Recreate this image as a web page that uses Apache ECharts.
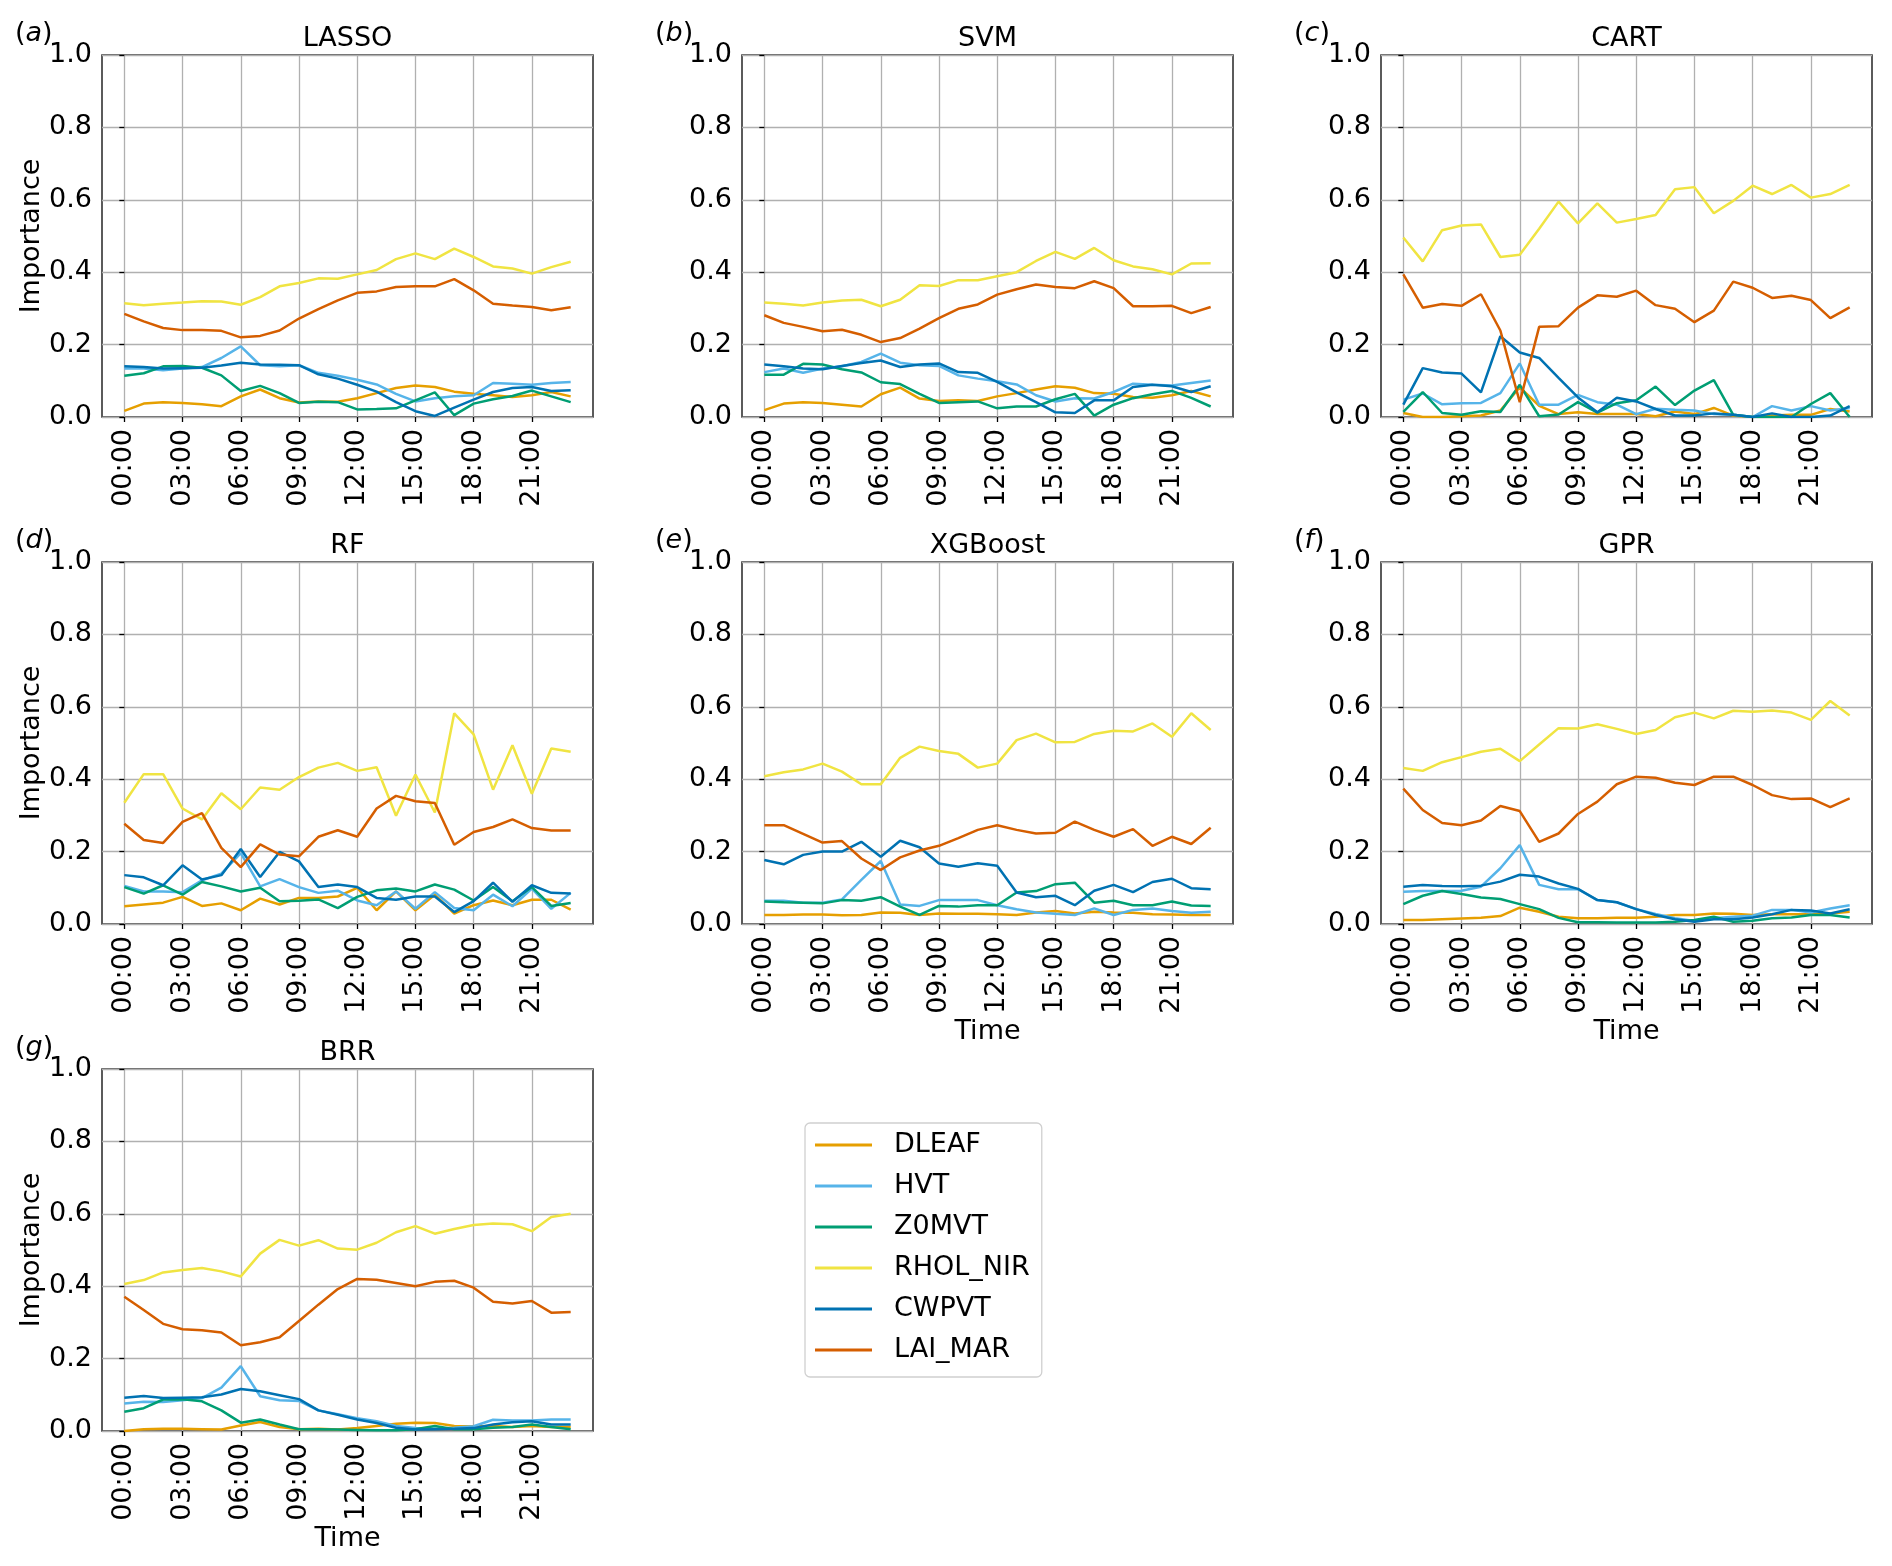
<!DOCTYPE html>
<html><head><meta charset="utf-8">
<script src="https://cdn.jsdelivr.net/npm/echarts@6/dist/echarts.min.js"></script>
<style>html,body{margin:0;padding:0;background:#fff}#chart{width:1892px;height:1566px}</style>
</head><body><div id="chart"></div>
<script>
const hours = [0,1,2,3,4,5,6,7,8,9,10,11,12,13,14,15,16,17,18,19,20,21,22,23];
const tickHours = [0,3,6,9,12,15,18,21];
const tickLabels = ['00:00','03:00','06:00','09:00','12:00','15:00','18:00','21:00'];
const yTicks = [0,0.2,0.4,0.6,0.8,1.0];
const features = ['DLEAF','HVT','Z0MVT','RHOL_NIR','CWPVT','LAI_MAR'];
const featureColors = ['#E69F00','#56B4E9','#009E73','#F0E442','#0072B2','#D55E00'];
const models = ['LASSO','SVM','CART','RF','XGBoost','GPR','BRR'];
const panelTags = ['a','b','c','d','e','f','g'];

// LASSO
const LASSO_DLEAF = [0.017,0.037,0.041,0.039,0.035,0.030,0.057,0.076,0.052,0.040,0.043,0.042,0.052,0.066,0.080,0.087,0.083,0.070,0.064,0.060,0.055,0.060,0.069,0.057];
const LASSO_HVT = [0.134,0.134,0.129,0.134,0.138,0.163,0.195,0.143,0.140,0.143,0.122,0.114,0.103,0.090,0.064,0.043,0.052,0.057,0.060,0.094,0.092,0.089,0.094,0.097];
const LASSO_Z0MVT = [0.114,0.121,0.140,0.141,0.136,0.115,0.072,0.086,0.066,0.039,0.042,0.041,0.021,0.022,0.024,0.046,0.068,0.005,0.037,0.049,0.058,0.073,0.057,0.041];
const LASSO_RHOL_NIR = [0.314,0.309,0.313,0.316,0.320,0.319,0.310,0.331,0.361,0.370,0.383,0.382,0.394,0.406,0.436,0.452,0.436,0.465,0.442,0.416,0.410,0.396,0.414,0.429];
const LASSO_CWPVT = [0.140,0.138,0.134,0.135,0.136,0.142,0.150,0.145,0.144,0.143,0.118,0.106,0.089,0.070,0.041,0.016,0.003,0.026,0.048,0.069,0.080,0.083,0.072,0.074];
const LASSO_LAI_MAR = [0.285,0.264,0.246,0.240,0.240,0.238,0.220,0.224,0.239,0.272,0.298,0.322,0.343,0.347,0.359,0.361,0.361,0.381,0.350,0.313,0.308,0.304,0.295,0.303];
// SVM
const SVM_DLEAF = [0.019,0.037,0.041,0.039,0.034,0.029,0.063,0.081,0.051,0.044,0.046,0.044,0.057,0.066,0.076,0.085,0.081,0.066,0.064,0.055,0.053,0.060,0.072,0.057];
const SVM_HVT = [0.124,0.134,0.122,0.134,0.140,0.152,0.175,0.150,0.143,0.141,0.115,0.106,0.099,0.090,0.060,0.043,0.052,0.051,0.069,0.092,0.089,0.087,0.094,0.101];
const SVM_Z0MVT = [0.117,0.117,0.147,0.145,0.132,0.123,0.096,0.091,0.064,0.039,0.041,0.043,0.024,0.029,0.029,0.049,0.064,0.004,0.034,0.052,0.063,0.072,0.053,0.029];
const SVM_RHOL_NIR = [0.316,0.313,0.308,0.316,0.322,0.324,0.306,0.324,0.364,0.362,0.378,0.378,0.389,0.400,0.431,0.456,0.437,0.467,0.433,0.416,0.408,0.394,0.424,0.425];
const SVM_CWPVT = [0.145,0.140,0.134,0.132,0.141,0.149,0.156,0.138,0.145,0.148,0.124,0.122,0.097,0.068,0.041,0.013,0.011,0.046,0.046,0.083,0.089,0.085,0.069,0.085];
const SVM_LAI_MAR = [0.281,0.260,0.249,0.237,0.241,0.227,0.207,0.218,0.244,0.273,0.299,0.311,0.338,0.353,0.366,0.359,0.356,0.375,0.356,0.306,0.306,0.307,0.287,0.304];
// CART
const CART_DLEAF = [0.011,0,0,0.002,0.004,0.018,0.082,0.031,0.008,0.013,0.008,0.008,0.008,0.002,0.015,0.008,0.025,0.004,0,0.004,0.006,0.006,0.022,0.015];
const CART_HVT = [0.048,0.065,0.035,0.038,0.039,0.066,0.148,0.034,0.034,0.061,0.041,0.034,0.008,0.023,0.020,0.018,0.008,0.006,0,0.030,0.018,0.030,0.018,0.025];
const CART_Z0MVT = [0.014,0.069,0.011,0.006,0.016,0.014,0.089,0.002,0.007,0.041,0.012,0.038,0.046,0.084,0.033,0.073,0.102,0.006,0,0,0,0.036,0.066,0];
const CART_RHOL_NIR = [0.496,0.430,0.516,0.529,0.532,0.442,0.448,0.520,0.595,0.535,0.590,0.537,0.547,0.558,0.629,0.635,0.563,0.597,0.639,0.616,0.641,0.606,0.616,0.641];
const CART_CWPVT = [0.034,0.135,0.123,0.120,0.068,0.223,0.178,0.163,0.108,0.054,0.013,0.053,0.043,0.022,0.004,0.004,0.010,0.006,0,0.010,0,0,0.004,0.030];
const CART_LAI_MAR = [0.394,0.302,0.312,0.307,0.339,0.239,0.041,0.249,0.251,0.302,0.336,0.332,0.349,0.309,0.299,0.262,0.294,0.374,0.357,0.329,0.335,0.323,0.273,0.303];
// RF
const RF_DLEAF = [0.049,0.054,0.059,0.075,0.050,0.057,0.038,0.070,0.054,0.072,0.072,0.076,0.100,0.038,0.090,0.038,0.081,0.029,0.052,0.065,0.052,0.067,0.067,0.040];
const RF_HVT = [0.105,0.090,0.090,0.088,0.121,0.139,0.196,0.104,0.124,0.102,0.086,0.092,0.065,0.052,0.090,0.042,0.088,0.044,0.038,0.081,0.049,0.098,0.042,0.086];
const RF_Z0MVT = [0.102,0.084,0.107,0.081,0.116,0.104,0.090,0.100,0.063,0.064,0.068,0.044,0.075,0.093,0.098,0.090,0.109,0.095,0.065,0.102,0.063,0.102,0.050,0.058];
const RF_RHOL_NIR = [0.335,0.414,0.414,0.319,0.289,0.361,0.317,0.377,0.371,0.406,0.432,0.445,0.423,0.433,0.299,0.413,0.308,0.582,0.524,0.371,0.494,0.360,0.485,0.476];
const RF_CWPVT = [0.135,0.129,0.107,0.162,0.123,0.135,0.207,0.130,0.199,0.173,0.102,0.109,0.102,0.072,0.067,0.076,0.076,0.033,0.063,0.114,0.061,0.107,0.086,0.084];
const RF_LAI_MAR = [0.277,0.232,0.224,0.282,0.306,0.210,0.157,0.220,0.192,0.187,0.241,0.259,0.241,0.319,0.354,0.339,0.334,0.219,0.254,0.268,0.289,0.265,0.258,0.258];
// XGBoost
const XGB_DLEAF = [0.025,0.025,0.026,0.026,0.024,0.025,0.032,0.031,0.025,0.029,0.028,0.028,0.027,0.025,0.032,0.036,0.029,0.034,0.032,0.031,0.027,0.026,0.025,0.025];
const XGB_HVT = [0.064,0.064,0.059,0.059,0.068,0.122,0.174,0.054,0.050,0.066,0.066,0.066,0.052,0.041,0.032,0.028,0.025,0.043,0.025,0.039,0.043,0.036,0.031,0.034];
const XGB_Z0MVT = [0.062,0.060,0.059,0.057,0.066,0.064,0.074,0.048,0.025,0.050,0.048,0.052,0.052,0.087,0.091,0.110,0.114,0.059,0.064,0.052,0.052,0.062,0.051,0.050];
const XGB_RHOL_NIR = [0.408,0.419,0.427,0.443,0.421,0.386,0.386,0.459,0.490,0.478,0.470,0.432,0.443,0.508,0.526,0.502,0.503,0.525,0.534,0.532,0.554,0.517,0.582,0.536];
const XGB_CWPVT = [0.177,0.165,0.191,0.200,0.200,0.227,0.186,0.230,0.212,0.167,0.158,0.168,0.161,0.087,0.074,0.078,0.052,0.092,0.108,0.088,0.116,0.125,0.099,0.096];
const XGB_LAI_MAR = [0.273,0.273,0.249,0.225,0.229,0.181,0.149,0.184,0.203,0.216,0.237,0.260,0.273,0.260,0.250,0.252,0.283,0.260,0.241,0.262,0.216,0.241,0.221,0.266];
// GPR
const GPR_DLEAF = [0.011,0.011,0.013,0.015,0.017,0.022,0.045,0.034,0.020,0.016,0.016,0.017,0.017,0.020,0.025,0.025,0.029,0.028,0.025,0.027,0.027,0.027,0.029,0.034];
const GPR_HVT = [0.089,0.091,0.091,0.092,0.103,0.154,0.218,0.108,0.096,0.096,0.066,0.060,0.041,0.028,0.016,0.008,0.016,0.020,0.023,0.039,0.039,0.032,0.043,0.052];
const GPR_Z0MVT = [0.055,0.078,0.091,0.083,0.073,0.069,0.055,0.041,0.017,0.005,0.005,0.004,0.004,0.004,0.006,0.011,0.020,0.006,0.009,0.016,0.018,0.025,0.025,0.018];
const GPR_RHOL_NIR = [0.431,0.423,0.447,0.461,0.476,0.484,0.450,0.496,0.541,0.540,0.552,0.539,0.525,0.536,0.571,0.584,0.568,0.589,0.586,0.590,0.584,0.564,0.616,0.576];
const GPR_CWPVT = [0.103,0.108,0.105,0.104,0.106,0.117,0.136,0.131,0.112,0.097,0.066,0.060,0.041,0.025,0.013,0.006,0.013,0.013,0.018,0.027,0.039,0.037,0.029,0.041];
const GPR_LAI_MAR = [0.374,0.315,0.279,0.273,0.286,0.326,0.312,0.227,0.250,0.304,0.338,0.386,0.407,0.404,0.390,0.384,0.407,0.407,0.384,0.356,0.345,0.347,0.323,0.347];
// BRR
const BRR_DLEAF = [0,0.005,0.006,0.006,0.005,0.004,0.015,0.025,0.011,0.005,0.006,0.004,0.008,0.014,0.020,0.023,0.022,0.014,0.013,0.014,0.011,0.014,0.011,0.011];
const BRR_HVT = [0.076,0.081,0.080,0.085,0.091,0.120,0.179,0.096,0.085,0.083,0.057,0.046,0.035,0.027,0.014,0.008,0.006,0.009,0.013,0.031,0.029,0.029,0.032,0.032];
const BRR_Z0MVT = [0.053,0.063,0.087,0.088,0.082,0.057,0.023,0.032,0.018,0.005,0.005,0.004,0.003,0.002,0.002,0.005,0.014,0.005,0.005,0.009,0.011,0.018,0.011,0.005];
const BRR_RHOL_NIR = [0.406,0.417,0.438,0.445,0.450,0.441,0.427,0.490,0.528,0.512,0.527,0.504,0.501,0.520,0.549,0.566,0.545,0.558,0.569,0.573,0.571,0.552,0.591,0.600];
const BRR_CWPVT = [0.092,0.097,0.091,0.092,0.093,0.101,0.116,0.110,0.099,0.088,0.057,0.045,0.032,0.022,0.009,0.004,0.005,0.006,0.008,0.018,0.024,0.027,0.018,0.018];
const BRR_LAI_MAR = [0.371,0.334,0.296,0.281,0.278,0.272,0.237,0.245,0.259,0.304,0.349,0.392,0.420,0.418,0.409,0.400,0.412,0.415,0.396,0.357,0.352,0.359,0.327,0.329];

const modelData = [
  [LASSO_DLEAF, LASSO_HVT, LASSO_Z0MVT, LASSO_RHOL_NIR, LASSO_CWPVT, LASSO_LAI_MAR],
  [SVM_DLEAF, SVM_HVT, SVM_Z0MVT, SVM_RHOL_NIR, SVM_CWPVT, SVM_LAI_MAR],
  [CART_DLEAF, CART_HVT, CART_Z0MVT, CART_RHOL_NIR, CART_CWPVT, CART_LAI_MAR],
  [RF_DLEAF, RF_HVT, RF_Z0MVT, RF_RHOL_NIR, RF_CWPVT, RF_LAI_MAR],
  [XGB_DLEAF, XGB_HVT, XGB_Z0MVT, XGB_RHOL_NIR, XGB_CWPVT, XGB_LAI_MAR],
  [GPR_DLEAF, GPR_HVT, GPR_Z0MVT, GPR_RHOL_NIR, GPR_CWPVT, GPR_LAI_MAR],
  [BRR_DLEAF, BRR_HVT, BRR_Z0MVT, BRR_RHOL_NIR, BRR_CWPVT, BRR_LAI_MAR]
];

const FONT = '"DejaVu Sans", sans-serif';
const FS = 27;
const colLeft = [102, 742, 1381];
const rowTop = [55, 562, 1069];
const plotW = 491, plotH = 362;

const grids = [], xAxes = [], yAxes = [], series = [], graphics = [];
models.forEach((m, i) => {
  const r = Math.floor(i / 3), c = i % 3;
  const left = colLeft[c], top = rowTop[r];
  grids.push({left: left, top: top, width: plotW, height: plotH, show: true,
    borderColor: '#333', borderWidth: 1.6, backgroundColor: 'transparent', containLabel: false});
  xAxes.push({
    type: 'value', gridIndex: i, min: -1.15, max: 24.15,
    name: (i >= 4) ? 'Time' : '', nameLocation: 'middle', nameGap: 94,
    nameTextStyle: {fontFamily: FONT, fontSize: FS, color: '#000'},
    axisLine: {show: false},
    axisTick: {show: true, length: 5, lineStyle: {color: '#000', width: 1.3}, customValues: tickHours},
    axisLabel: {rotate: 90, margin: 12, fontFamily: FONT, fontSize: FS, color: '#000', customValues: tickHours,
      formatter: v => tickLabels[tickHours.indexOf(Math.round(v))] || ''},
    splitLine: {show: true, lineStyle: {color: '#b0b0b0', width: 1.3}}
  });
  yAxes.push({
    type: 'value', gridIndex: i, min: 0, max: 1, interval: 0.2,
    name: (c === 0) ? 'Importance' : '', nameLocation: 'middle', nameGap: 56,
    nameTextStyle: {fontFamily: FONT, fontSize: FS, color: '#000'},
    axisLine: {show: false},
    axisTick: {show: true, length: 5, lineStyle: {color: '#000', width: 1.3}},
    axisLabel: {margin: 10, fontFamily: FONT, fontSize: FS, color: '#000', formatter: v => v.toFixed(1)},
    splitLine: {show: true, lineStyle: {color: '#b0b0b0', width: 1.3}}
  });
  features.forEach((f, k) => {
    series.push({
      type: 'line', name: f, xAxisIndex: i, yAxisIndex: i,
      data: hours.map((h, j) => [h, modelData[i][k][j]]),
      symbol: 'none', showSymbol: false,
      lineStyle: {color: featureColors[k], width: 2.5},
      itemStyle: {color: featureColors[k]},
      animation: false, silent: true
    });
  });
  graphics.push({
    type: 'text', x: left + plotW / 2, y: top - 16.5,
    style: {text: m, font: FS + 'px ' + FONT, fill: '#000', align: 'center', verticalAlign: 'middle',
      textAlign: 'center', textVerticalAlign: 'middle'}
  });
  graphics.push({
    type: 'text', x: left - 87, y: top - 21,
    style: {text: '{n|(}{i|' + panelTags[i] + '}{n|)}', fill: '#000', align: 'left', verticalAlign: 'middle',
      textAlign: 'left', textVerticalAlign: 'middle',
      rich: {n: {font: FS + 'px ' + FONT, fill: '#000'}, i: {font: 'italic ' + FS + 'px ' + FONT, fill: '#000'}}}
  });
});

const chart = echarts.init(document.getElementById('chart'), null, {renderer: 'canvas'});
chart.setOption({
  animation: false,
  backgroundColor: '#fff',
  grid: grids, xAxis: xAxes, yAxis: yAxes, series: series,
  graphic: {elements: graphics},
  legend: {
    data: features, orient: 'vertical', left: 805, top: 1123,
    padding: [7, 12, 12, 10], itemWidth: 57, itemHeight: 3, itemGap: 11, icon: 'rect',
    borderColor: '#d0d0d0', borderWidth: 1.3, borderRadius: 5, backgroundColor: '#fff',
    selectedMode: false,
    textStyle: {fontFamily: FONT, fontSize: FS, color: '#000', lineHeight: 30, padding: [0, 0, 0, 17]}
  }
});
</script></body></html>
